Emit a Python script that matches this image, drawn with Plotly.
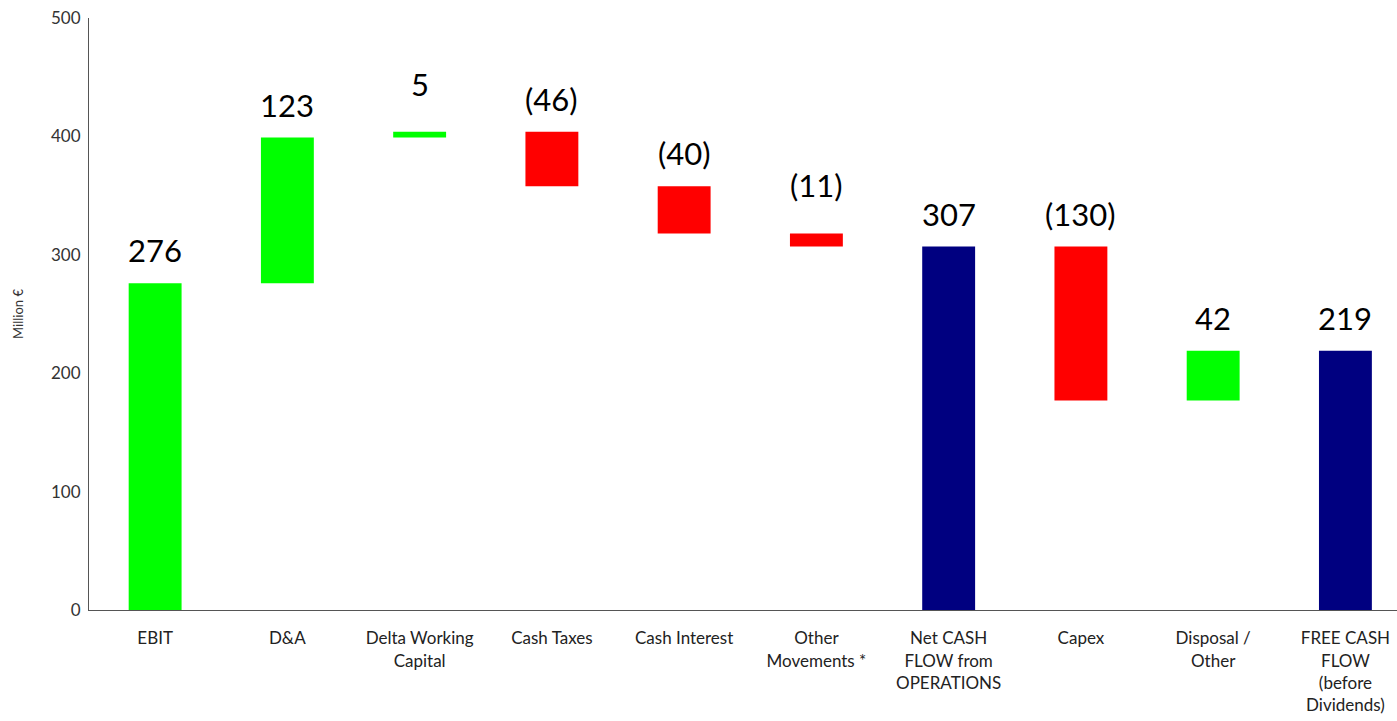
import plotly.graph_objects as go

# Cash flow bridge, million €
categories = [
    "EBIT", "D&A", "Delta Working<br>Capital", "Cash Taxes", "Cash Interest",
    "Other<br>Movements *", "Net CASH<br>FLOW from<br>OPERATIONS", "Capex",
    "Disposal /<br>Other", "FREE CASH<br>FLOW<br>(before<br>Dividends)",
]
values = [276, 123, 5, -46, -40, -11, 307, -130, 42, 219]
kinds = ["delta", "delta", "delta", "delta", "delta", "delta", "total", "delta", "delta", "total"]
y_ticks = [0, 100, 200, 300, 400, 500]

GREEN, RED, NAVY = "#00FF00", "#FF0000", "#000080"

bases, heights, colors, tops, labels = [], [], [], [], []
running = 0
for v, k in zip(values, kinds):
    if k == "total":
        bases.append(0)
        heights.append(v)
        colors.append(NAVY)
        running = v
    else:
        start = running
        running = running + v
        bases.append(min(start, running))
        heights.append(abs(v))
        colors.append(GREEN if v >= 0 else RED)
    tops.append(bases[-1] + heights[-1])
    labels.append(f"({abs(v)})" if v < 0 else f"{v}")

x = list(range(len(categories)))

fig = go.Figure()
fig.add_trace(go.Bar(
    x=x, y=heights, base=bases, marker=dict(color=colors, line=dict(width=0)),
    width=0.4, hoverinfo="skip", showlegend=False,
))

for xi, top, h, lab in zip(x, tops, heights, labels):
    fig.add_annotation(
        x=xi, y=top, text=lab, showarrow=False, yanchor="middle",
        yshift=33 + (15 if h < 15 else 0),
        font=dict(family="Lato, sans-serif", size=31, color="#000000"),
    )

fig.update_layout(
    width=1397, height=721,
    margin=dict(l=89, r=0, t=18, b=111),
    paper_bgcolor="white", plot_bgcolor="white",
    font=dict(family="Lato, sans-serif", color="#222222"),
    bargap=0.6,
    xaxis=dict(
        tickmode="array", tickvals=x, ticktext=categories,
        range=[-0.5, 9.39], showline=True, linecolor="#555555", linewidth=1,
        showgrid=False, zeroline=False, ticks="",
        tickfont=dict(size=17, color="#222222"), ticklabelstandoff=13,
    ),
    yaxis=dict(
        range=[0, 500], tickmode="array", tickvals=y_ticks,
        showline=True, linecolor="#555555", linewidth=1,
        showgrid=False, zeroline=False, ticks="",
        tickfont=dict(size=17, color="#333333"), ticklabelstandoff=4,
        title=dict(text="Million €", font=dict(size=13, color="#333333"), standoff=24),
    ),
)

fig.write_html("out.html")
